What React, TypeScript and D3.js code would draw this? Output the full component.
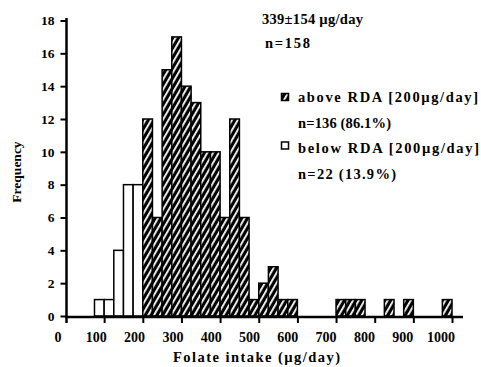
import React, { useEffect, useRef } from 'react';
import * as d3 from 'd3';

// ---- data ----
const BIN_WIDTH = 25;
const belowStarts = [75, 100, 125, 150, 175];
const belowCounts = [1, 1, 4, 8, 8];
const aboveStarts = [200, 225, 250, 275, 300, 325, 350, 375, 400, 425, 450, 475, 500, 525, 550, 575, 700, 725, 750, 825, 875, 975];
const aboveCounts = [12, 6, 15, 17, 14, 13, 10, 10, 6, 12, 6, 1, 2, 3, 1, 1, 1, 1, 1, 1, 1, 1];
const xTicks = [0, 100, 200, 300, 400, 500, 600, 700, 800, 900, 1000];
const yTicks = [0, 2, 4, 6, 8, 10, 12, 14, 16, 18];
const summaryLines = ['339±154 µg/day', 'n=158'];
const legendLabels = ['above RDA [200µg/day]', 'below RDA [200µg/day]'];
const legendCounts = ['n=136 (86.1%)', 'n=22  (13.9%)'];
const xTitle = 'Folate intake  (µg/day)';
const yTitle = 'Frequency';

const W = 481;
const H = 367;
const FONT = '"Liberation Serif", "Times New Roman", serif';

export default function App() {
  const ref = useRef<SVGSVGElement | null>(null);

  useEffect(() => {
    const svg = d3.select(ref.current);
    svg.selectAll('*').remove();

    const x = d3.scaleLinear().domain([0, 1000]).range([65.5, 452]);
    const xLab = d3.scaleLinear().domain([0, 1000]).range([58, 441]);
    const y = d3.scaleLinear().domain([0, 18]).range([316, 20.5]);

    const defs = svg.append('defs');
    const pat = defs.append('pattern')
      .attr('id', 'hatch')
      .attr('patternUnits', 'userSpaceOnUse')
      .attr('width', 5)
      .attr('height', 5)
      .attr('patternTransform', 'rotate(30)');
    pat.append('rect').attr('width', 5).attr('height', 5).attr('fill', '#000');
    pat.append('rect').attr('x', 0).attr('width', 1.8).attr('height', 5).attr('fill', '#fff');

    const below = belowStarts.map((s, i) => ({ s, c: belowCounts[i] }));
    const above = aboveStarts.map((s, i) => ({ s, c: aboveCounts[i] }));

    svg.append('g').selectAll('rect').data(below).join('rect')
      .attr('x', d => x(d.s))
      .attr('y', d => y(d.c))
      .attr('width', d => x(d.s + BIN_WIDTH) - x(d.s))
      .attr('height', d => y(0) - y(d.c))
      .attr('fill', '#fff')
      .attr('stroke', '#000')
      .attr('stroke-width', 1.5);

    svg.append('g').selectAll('rect').data(above).join('rect')
      .attr('x', d => x(d.s))
      .attr('y', d => y(d.c))
      .attr('width', d => x(d.s + BIN_WIDTH) - x(d.s))
      .attr('height', d => y(0) - y(d.c))
      .attr('fill', 'url(#hatch)')
      .attr('stroke', '#000')
      .attr('stroke-width', 1.5);

    // x axis
    const xAxis = d3.axisBottom(x).tickValues(xTicks.slice(1)).tickSize(6).tickFormat(() => '');
    const gx = svg.append('g').attr('transform', 'translate(0,317)').call(xAxis);
    gx.select('.domain').remove();
    gx.selectAll('line').attr('stroke', '#000').attr('stroke-width', 2);
    gx.append('line').attr('x1', 65).attr('x2', 463).attr('y1', 0).attr('y2', 0)
      .attr('stroke', '#000').attr('stroke-width', 2.5);

    svg.append('g').selectAll('text').data(xTicks).join('text')
      .attr('x', d => xLab(d))
      .attr('y', 342)
      .attr('text-anchor', 'middle')
      .attr('font-family', FONT)
      .attr('font-weight', 'bold')
      .attr('font-size', 14)
      .text(d => String(d));

    // y axis
    const yAxis = d3.axisLeft(y).tickValues(yTicks).tickSize(6).tickPadding(6).tickFormat(d => String(d));
    const gy = svg.append('g').attr('transform', 'translate(66.5,0)').call(yAxis);
    gy.select('.domain').remove();
    gy.selectAll('line').attr('stroke', '#000').attr('stroke-width', 2);
    gy.selectAll('text')
      .attr('font-family', FONT)
      .attr('font-weight', 'bold')
      .attr('font-size', 13.5)
      .attr('fill', '#000');
    gy.append('line').attr('x1', 0).attr('x2', 0).attr('y1', 18).attr('y2', 323)
      .attr('stroke', '#000').attr('stroke-width', 2.5);

    const txt = (sx: number, sy: number, s: string, size: number, len?: number) => {
      const t = svg.append('text')
        .attr('x', sx).attr('y', sy)
        .attr('font-family', FONT)
        .attr('font-weight', 'bold')
        .attr('font-size', size)
        .attr('fill', '#000')
        .text(s);
      if (len) t.attr('textLength', len).attr('lengthAdjust', 'spacing');
      return t;
    };

    // summary
    txt(262, 24, summaryLines[0], 14.5, 101);
    txt(265, 48, summaryLines[1], 14.5, 45);

    // legend
    svg.append('rect').attr('x', 281.5).attr('y', 93.5).attr('width', 7).attr('height', 7)
      .attr('fill', 'url(#hatch)').attr('stroke', '#000').attr('stroke-width', 1.5);
    txt(298, 102, legendLabels[0], 14.5, 180);
    txt(298, 127.5, legendCounts[0], 14.5, 93);
    svg.append('rect').attr('x', 281.5).attr('y', 142).attr('width', 7).attr('height', 7)
      .attr('fill', '#fff').attr('stroke', '#000').attr('stroke-width', 1.5);
    txt(298, 152.5, legendLabels[1], 14.5, 181);
    txt(298, 178.5, legendCounts[1], 14.5, 98);

    // titles
    txt(173, 362, xTitle, 14.5, 167);
    svg.append('text')
      .attr('transform', 'translate(21,172) rotate(-90)')
      .attr('text-anchor', 'middle')
      .attr('font-family', FONT)
      .attr('font-weight', 'bold')
      .attr('font-size', 13.5)
      .attr('fill', '#000')
      .text(yTitle);
  }, []);

  return (
    <svg
      ref={ref}
      width={W}
      height={H}
      viewBox={`0 0 ${W} ${H}`}
      style={{ position: 'absolute', left: 0, top: 0, display: 'block', background: '#fff' }}
    />
  );
}
